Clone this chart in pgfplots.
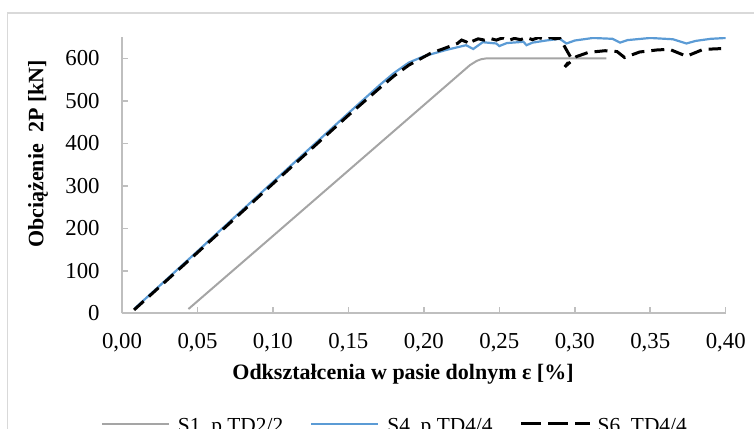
\documentclass[border=0pt]{standalone}
\usepackage{pgfplots}
\pgfplotsset{compat=1.18}
\usepackage{fontspec}
\setmainfont{Liberation Serif}
\definecolor{axgray}{HTML}{BFBFBF}
\definecolor{s1gray}{HTML}{A5A5A5}
\definecolor{s4blue}{HTML}{5B9BD5}
\definecolor{framegray}{HTML}{D9D9D9}

\begin{document}
\begin{tikzpicture}
\useasboundingbox (0,0) rectangle (377pt,-214pt);
\clip (0,0) rectangle (377pt,-214pt);
\draw[framegray, line width=0.7pt] (3.65pt,-230pt) -- (3.65pt,-6.5pt) -- (390pt,-6.5pt);
\begin{axis}[
  at={(61pt,-156.65pt)}, anchor=south west,
  width=301.85pt, height=138.1pt, scale only axis,
  xmin=0, xmax=0.4, ymin=0, ymax=650,
  axis x line=bottom, axis y line=left,
  axis line style={axgray, line width=1pt, -},
  tick align=inside, major tick length=3pt,
  tick style={axgray, line width=0.75pt},
  xtick={0,0.05,0.1,0.15,0.2,0.25,0.3,0.35,0.4},
  ytick={0,100,200,300,400,500,600},
  /pgf/number format/assume math mode=true,
  xticklabel style={/pgf/number format/use comma, /pgf/number format/fixed,
    /pgf/number format/fixed zerofill, /pgf/number format/precision=2},
  ticklabel style={font=\fontsize{11.4}{13}\selectfont},
  xticklabel style={anchor=base, inner sep=0pt, yshift=-17.5pt},
  yticklabel style={anchor=east, inner sep=0pt, xshift=-11pt},
  xlabel={Odkształcenia w pasie dolnym ε [\%]},
  ylabel={Obciążenie\ \ 2P [kN]},
  xlabel style={at={(axis description cs:0.4655,-0.2414)}, anchor=base, inner sep=0pt, font=\fontsize{11}{13}\selectfont\bfseries},
  ylabel style={at={(axis description cs:-0.1391,0.5767)}, anchor=center, inner sep=0pt, font=\fontsize{11}{13}\selectfont\bfseries},
  legend columns=3,
  legend cell align=left,
  legend image code/.code={\draw[#1] (0pt,1.5pt) -- (33.5pt,1.5pt); \path (37.5pt,1.5pt);},
  legend style={at={(axis description cs:-0.0348,-0.4105)}, anchor=west,
    draw=none, fill=none, inner sep=0pt, outer sep=0pt,
    font=\fontsize{10.7}{12}\selectfont,
    nodes={inner sep=0pt, outer sep=0pt},
    column sep=0pt,
    /tikz/every odd column/.style={column sep=0pt},
    /tikz/every even column/.style={column sep=0pt}},
]
\addplot[s1gray, line width=1pt] coordinates {
  (0.044,10) (0.10,182) (0.15,336) (0.2305,584) (0.235,594) (0.238,598)
  (0.2415,600) (0.28,600) (0.321,600)
};
\addlegendentry{S1\_p.TD2/2\kern13.5pt}
\addplot[s4blue, line width=1.1pt] coordinates {
  (0.0086,12) (0.05,146) (0.10,309) (0.15,471) (0.171,538) (0.18,565)
  (0.19,590) (0.20,605) (0.215,620) (0.228,631) (0.2327,622) (0.239,638)
  (0.248,635) (0.250,629) (0.255,636) (0.266,639) (0.268,631) (0.272,637)
  (0.281,642) (0.290,646) (0.2945,635) (0.300,642) (0.312,648) (0.325,646)
  (0.330,637) (0.335,643) (0.350,648) (0.365,645) (0.374,635) (0.380,641)
  (0.390,646) (0.4004,648)
};
\addlegendentry{S4\_p.TD4/4\kern13.5pt}
\addplot[black, line width=1.5pt, dash pattern=on 6.5pt off 3.5pt,
  legend image code/.code={\draw[black, line width=1.5pt, dash pattern=on 10pt off 3.5pt] (0pt,1.5pt) -- (34.5pt,1.5pt); \path (37.5pt,1.5pt);}]
  coordinates {
  (0.008,8) (0.05,143) (0.10,305) (0.15,466) (0.17,528) (0.18,558)
  (0.19,584) (0.2045,612) (0.2125,622) (0.2222,635) (0.225,643) (0.228,639)
  (0.2289,645) (0.232,640) (0.236,646) (0.240,643) (0.2437,647) (0.248,643)
  (0.252,648) (0.256,642) (0.260,647) (0.264,644) (0.268,649) (0.272,644)
  (0.276,649) (0.280,645) (0.284,649) (0.287,646) (0.290,648) (0.2977,600)
  (0.2934,580) (0.301,604) (0.309,614) (0.320,618) (0.328,616) (0.333,602)
  (0.343,615) (0.355,620) (0.363,621) (0.374,605) (0.385,621) (0.397,623)
};
\addlegendentry{S6\_TD4/4}
\end{axis}
\end{tikzpicture}
\end{document}
